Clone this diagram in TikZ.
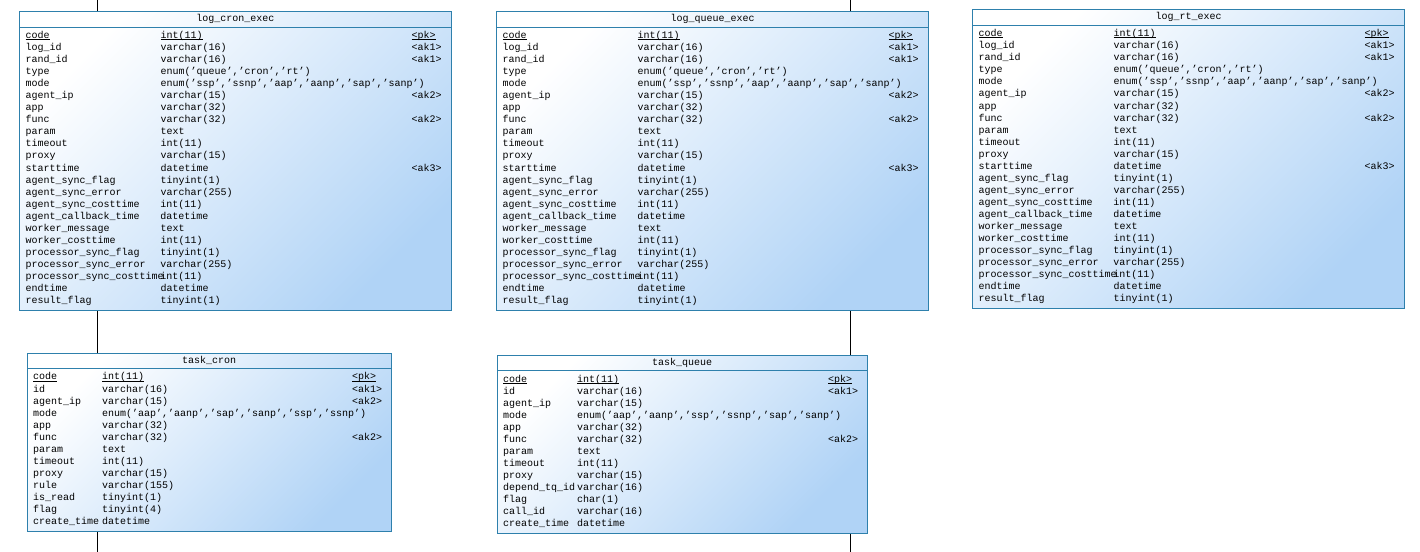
\documentclass[tikz,border=0pt]{standalone}
\usepackage{fontspec}
\newfontfamily\tblfont{Liberation Mono}
\usetikzlibrary{positioning,shapes.multipart,backgrounds}
\definecolor{tblborder}{RGB}{46,128,172}
\definecolor{tblfill}{RGB}{176,211,246}
\tikzstyle{tbl}=[rectangle split, rectangle split parts=2, draw=tblborder,
                 line width=0.75pt, top color=white, bottom color=tblfill,
                 shading angle=45, inner xsep=4.5pt, inner ysep=1.75pt,
                 align=center, font=\tblfont\fontsize{7.5}{9.04}\selectfont]
\tikzstyle{refline}=[-, line width=0.75pt, black]
\newcommand{\setcols}[3]{\def\nw{#1}\def\tw{#2}\def\kw{#3}}
\newcommand{\ttl}{\rule[-2pt]{0pt}{7.5pt}}
\newcommand{\ul}[1]{\setbox0\hbox{#1}\rlap{\rule[-1pt]{\wd0}{0.5pt}}\box0}
\newcommand{\fld}[3]{\makebox[\nw][l]{#1}\makebox[\tw][l]{#2}\makebox[\kw][l]{#3}\strut}
\newcommand{\logfields}{%
\fld{\ul{code}}{\ul{int(11)}}{\ul{<pk>}}\\
\fld{log\_id}{varchar(16)}{<ak1>}\\
\fld{rand\_id}{varchar(16)}{<ak1>}\\
\fld{type}{enum(’queue’,’cron’,’rt’)}{}\\
\fld{mode}{enum(’ssp’,’ssnp’,’aap’,’aanp’,’sap’,’sanp’)}{}\\
\fld{agent\_ip}{varchar(15)}{<ak2>}\\
\fld{app}{varchar(32)}{}\\
\fld{func}{varchar(32)}{<ak2>}\\
\fld{param}{text}{}\\
\fld{timeout}{int(11)}{}\\
\fld{proxy}{varchar(15)}{}\\
\fld{starttime}{datetime}{<ak3>}\\
\fld{agent\_sync\_flag}{tinyint(1)}{}\\
\fld{agent\_sync\_error}{varchar(255)}{}\\
\fld{agent\_sync\_costtime}{int(11)}{}\\
\fld{agent\_callback\_time}{datetime}{}\\
\fld{worker\_message}{text}{}\\
\fld{worker\_costtime}{int(11)}{}\\
\fld{processor\_sync\_flag}{tinyint(1)}{}\\
\fld{processor\_sync\_error}{varchar(255)}{}\\
\fld{processor\_sync\_costtime}{int(11)}{}\\
\fld{endtime}{datetime}{}\\
\fld{result\_flag}{tinyint(1)}{}}

\begin{document}
\begin{tikzpicture}[node distance=0mm]
\useasboundingbox (0,0) rectangle (1065pt,-414pt);

\setcols{101.25pt}{188.25pt}{25.5pt}
\node (LCE) [tbl, text width=315pt, anchor=north west] at (14.25pt,-8.25pt)
 {\ttl log\_cron\_exec \nodepart{two} \logfields};

\node (LQE) [tbl, text width=315pt, right=33pt of LCE]
 {\ttl log\_queue\_exec \nodepart{two} \logfields};

\node (LRE) [tbl, text width=315pt, right=32.25pt of LQE, yshift=1.3pt]
 {\ttl log\_rt\_exec \nodepart{two} \logfields};

\setcols{51.75pt}{187.5pt}{24.75pt}
\node (TC) [tbl, text width=264pt, below right=31.5pt and 5.8pt of LCE.south west]
 {\ttl task\_cron \nodepart{two}
\fld{\ul{code}}{\ul{int(11)}}{\ul{<pk>}}\\
\fld{id}{varchar(16)}{<ak1>}\\
\fld{agent\_ip}{varchar(15)}{<ak2>}\\
\fld{mode}{enum(’aap’,’aanp’,’sap’,’sanp’,’ssp’,’ssnp’)}{}\\
\fld{app}{varchar(32)}{}\\
\fld{func}{varchar(32)}{<ak2>}\\
\fld{param}{text}{}\\
\fld{timeout}{int(11)}{}\\
\fld{proxy}{varchar(15)}{}\\
\fld{rule}{varchar(155)}{}\\
\fld{is\_read}{tinyint(1)}{}\\
\fld{flag}{tinyint(4)}{}\\
\fld{create\_time}{datetime}{}};

\setcols{55.5pt}{188.25pt}{24.75pt}
\node (TQ) [tbl, text width=268.5pt, below right=33.2pt and 0.5pt of LQE.south west]
 {\ttl task\_queue \nodepart{two}
\fld{\ul{code}}{\ul{int(11)}}{\ul{<pk>}}\\
\fld{id}{varchar(16)}{<ak1>}\\
\fld{agent\_ip}{varchar(15)}{}\\
\fld{mode}{enum(’aap’,’aanp’,’ssp’,’ssnp’,’sap’,’sanp’)}{}\\
\fld{app}{varchar(32)}{}\\
\fld{func}{varchar(32)}{<ak2>}\\
\fld{param}{text}{}\\
\fld{timeout}{int(11)}{}\\
\fld{proxy}{varchar(15)}{}\\
\fld{depend\_tq\_id}{varchar(16)}{}\\
\fld{flag}{char(1)}{}\\
\fld{call\_id}{varchar(16)}{}\\
\fld{create\_time}{datetime}{}};

% references running behind the tables
\coordinate (RCT) at (72.75pt,0);
\coordinate (RCB) at (72.75pt,-414pt);
\coordinate (RQT) at (637.5pt,0);
\coordinate (RQB) at (637.5pt,-414pt);
\begin{scope}[on background layer]
 \draw[refline] (RCT) -- (RCB);
 \draw[refline] (RQT) -- (RQB);
\end{scope}

\end{tikzpicture}
\end{document}
